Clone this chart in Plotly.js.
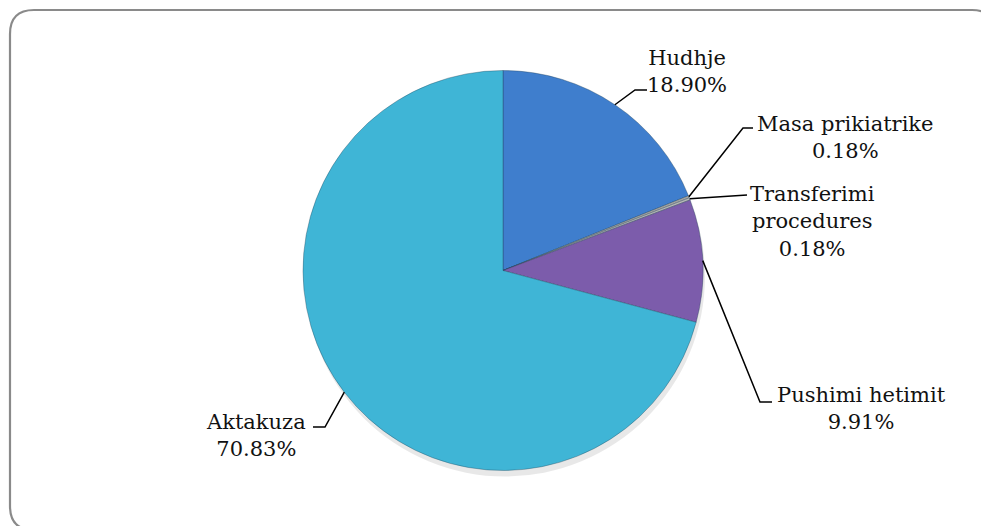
<!DOCTYPE html>
<html>
<head>
<meta charset="utf-8">
<script src="https://cdn.plot.ly/plotly-3.0.1.min.js"></script>
<style>html,body{margin:0;padding:0;background:#fff;}#chart{width:981px;height:526px;}</style>
</head>
<body>
<div id="chart"></div>
<script>
// ---- data ----
const categories = ['Hudhje', 'Masa prikiatrike', 'Transferimi procedures', 'Pushimi hetimit', 'Aktakuza'];
const labelText = ['Hudhje', 'Masa prikiatrike', 'Transferimi<br>procedures', 'Pushimi hetimit', 'Aktakuza'];
const shares = [18.90, 0.18, 0.18, 9.91, 70.83];
const percentLabels = ['18.90%', '0.18%', '0.18%', '9.91%', '70.83%'];

// ---- style ----
const sliceColors = ['#3f7ecd', '#a6a6a6', '#b8b8b8', '#7c5cab', '#3fb5d6'];
const W = 981, H = 526;
const cx = 503, cy = 270.5, R = 200;
// label placement (pixels): elbow point, line end, label centre
const labelPlace = [
  {elbow: [635, 90],  end: [647, 90],  at: [687, 71]},
  {elbow: [743, 128], end: [753, 128], at: [845, 137]},
  {elbow: null,       end: [747, 195], at: [812, 222]},
  {elbow: [760, 402], end: [772, 402], at: [861, 408]},
  {elbow: [325, 427], end: [313, 427], at: [256, 435]}
];
const px = x => x / W;
const py = y => 1 - y / H;
const font = {family: 'DejaVu Serif, Liberation Serif, serif', size: 21, color: '#111'};

const total = shares.reduce((a, b) => a + b, 0);
const shapes = [];
const annotations = [];

// frame
(function () {
  const x0 = 10, y0 = 10, x1 = 996, y1 = 530, r = 24;
  const d = `M ${px(x0)},${py(y0 + r)} Q ${px(x0)},${py(y0)} ${px(x0 + r)},${py(y0)} ` +
    `L ${px(x1 - r)},${py(y0)} Q ${px(x1)},${py(y0)} ${px(x1)},${py(y0 + r)} ` +
    `L ${px(x1)},${py(y1 - r)} Q ${px(x1)},${py(y1)} ${px(x1 - r)},${py(y1)} ` +
    `L ${px(x0 + r)},${py(y1)} Q ${px(x0)},${py(y1)} ${px(x0)},${py(y1 - r)} Z`;
  shapes.push({type: 'path', xref: 'paper', yref: 'paper', path: d,
    line: {color: '#8a8a8a', width: 2.2}, fillcolor: 'rgba(0,0,0,0)', layer: 'below'});
})();

// soft shadow under pie
shapes.push({type: 'circle', xref: 'paper', yref: 'paper', layer: 'below',
  x0: px(cx - R + 2), x1: px(cx + R + 2), y0: py(cy + R + 6), y1: py(cy - R + 6),
  fillcolor: 'rgba(0,0,0,0.09)', line: {width: 0}});

let cum = 0;
shares.forEach((v, i) => {
  const mid = (cum + v / 2) / total * 2 * Math.PI;
  cum += v;
  const ex = cx + R * Math.sin(mid), ey = cy - R * Math.cos(mid);
  const p = labelPlace[i];
  let d = `M ${px(ex)},${py(ey)}`;
  if (p.elbow) d += ` L ${px(p.elbow[0])},${py(p.elbow[1])}`;
  d += ` L ${px(p.end[0])},${py(p.end[1])}`;
  shapes.push({type: 'path', xref: 'paper', yref: 'paper', path: d,
    line: {color: '#000', width: 1.5}, layer: 'above'});
  annotations.push({xref: 'paper', yref: 'paper', x: px(p.at[0]), y: py(p.at[1]),
    xanchor: 'center', yanchor: 'middle', align: 'center', showarrow: false,
    text: labelText[i] + '<br>' + percentLabels[i], font: font});
});

const trace = {
  type: 'pie',
  labels: categories,
  values: shares,
  sort: false,
  direction: 'clockwise',
  rotation: 0,
  textinfo: 'none',
  hoverinfo: 'label+percent',
  marker: {colors: sliceColors, line: {color: 'rgba(30,60,80,0.35)', width: 1}},
  domain: {x: [px(cx - R), px(cx + R)], y: [py(cy + R), py(cy - R)]},
  showlegend: false
};

Plotly.newPlot('chart', [trace], {
  width: W, height: H,
  margin: {l: 0, r: 0, t: 0, b: 0},
  paper_bgcolor: '#fff',
  showlegend: false,
  shapes: shapes,
  annotations: annotations
}, {displayModeBar: false, staticPlot: true});
</script>
</body>
</html>
